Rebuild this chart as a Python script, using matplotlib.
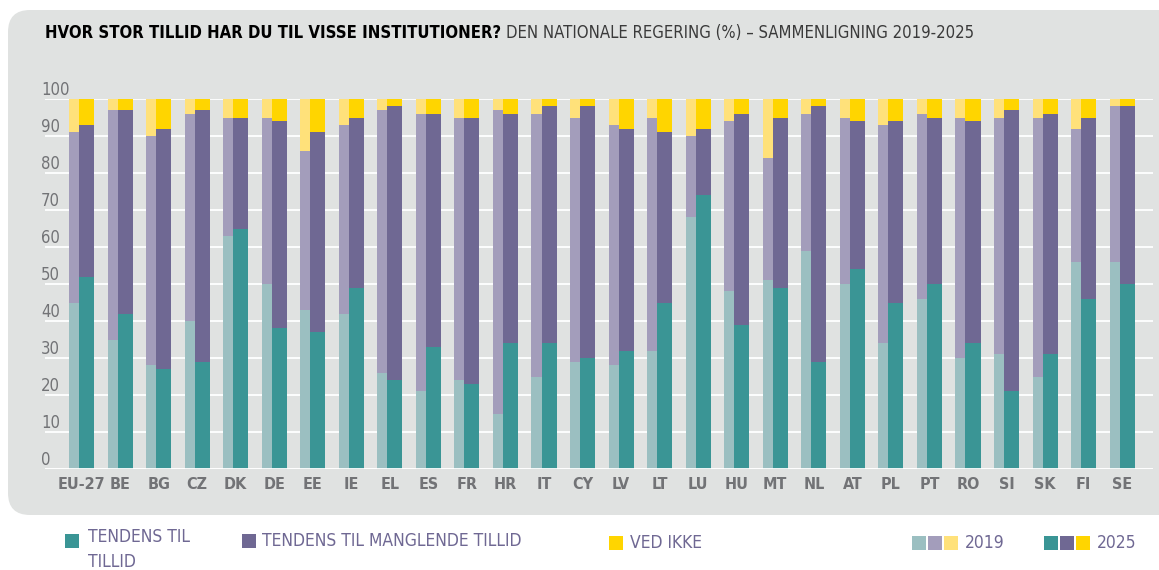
import matplotlib.pyplot as plt
import numpy as np
from matplotlib.patches import FancyBboxPatch, Rectangle
from matplotlib.transforms import IdentityTransform, offset_copy
from matplotlib import font_manager

countries = ["EU-27", "BE", "BG", "CZ", "DK", "DE", "EE", "IE", "EL", "ES",
             "FR", "HR", "IT", "CY", "LV", "LT", "LU", "HU", "MT", "NL",
             "AT", "PL", "PT", "RO", "SI", "SK", "FI", "SE"]

# tendens til tillid
trust_2019 = [45, 35, 28, 40, 63, 50, 43, 42, 26, 21, 24, 15, 25, 29, 28, 32, 68, 48, 51, 59, 50, 34, 46, 30, 31, 25, 56, 56]
trust_2025 = [52, 42, 27, 29, 65, 38, 37, 49, 24, 33, 23, 34, 34, 30, 32, 45, 74, 39, 49, 29, 54, 45, 50, 34, 21, 31, 46, 50]
# tendens til manglende tillid
distrust_2019 = [46, 62, 62, 56, 32, 45, 43, 51, 71, 75, 71, 82, 71, 66, 65, 63, 22, 46, 33, 37, 45, 59, 50, 65, 64, 70, 36, 42]
distrust_2025 = [41, 55, 65, 68, 30, 56, 54, 46, 74, 63, 72, 62, 64, 68, 60, 46, 18, 57, 46, 69, 40, 49, 45, 60, 76, 65, 49, 48]
# ved ikke
dk_2019 = [9, 3, 10, 4, 5, 5, 14, 7, 3, 4, 5, 3, 4, 5, 7, 5, 10, 6, 16, 4, 5, 7, 4, 5, 5, 5, 8, 2]
dk_2025 = [7, 3, 8, 3, 5, 6, 9, 5, 2, 4, 5, 4, 2, 2, 8, 9, 8, 4, 5, 2, 6, 6, 5, 6, 3, 4, 5, 2]
yticks = list(range(0, 101, 10))

c19 = ["#9bbfc1", "#a39dbb", "#ffe17a"]
c25 = ["#3a9595", "#6f6893", "#ffd500"]
bg = "#e0e2e1"
tick_col = "#727376"
leg_col = "#6f6893"

# look for a condensed face, fall back to DejaVu Sans
names = {f.name for f in font_manager.fontManager.ttflist}
narrow = [n for n in ["Liberation Sans Narrow", "DejaVu Sans Condensed"] if n in names] + ["DejaVu Sans"]
stretch = "condensed"

W, H = 1159, 570
fig = plt.figure(figsize=(W / 100, H / 100), dpi=100)
fig.patch.set_facecolor("white")

panel = FancyBboxPatch((8, H - 515), 1200, 505, boxstyle="round,pad=0,rounding_size=22",
                       transform=IdentityTransform(), facecolor=bg, edgecolor="none", zorder=-5)
fig.patches.append(panel)

ax_left, ax_right = 45, 1153
ax = fig.add_axes([ax_left / W, (H - 469) / H, (ax_right - ax_left) / W, 370 / H], zorder=2)
ax.patch.set_visible(False)

x = np.arange(len(countries))
t19, t25 = np.array(trust_2019), np.array(trust_2025)
d19, d25 = np.array(distrust_2019), np.array(distrust_2025)
k19, k25 = np.array(dk_2019), np.array(dk_2025)

w = 0.39
off = 0.13
ax.bar(x - off, t19, w, color=c19[0], zorder=2)
ax.bar(x - off, d19, w, bottom=t19, color=c19[1], zorder=2)
ax.bar(x - off, k19, w, bottom=t19 + d19, color=c19[2], zorder=2)
ax.bar(x + off, t25, w, color=c25[0], zorder=3)
ax.bar(x + off, d25, w, bottom=t25, color=c25[1], zorder=3)
ax.bar(x + off, k25, w, bottom=t25 + d25, color=c25[2], zorder=3)

ax.set_ylim(0, 100)
ax.set_xlim(-0.947, 27.8)
ax.set_yticks(yticks)
ax.set_yticklabels([])
ax.yaxis.grid(True, color="white", linewidth=1.3, zorder=1)
ax.axhline(0, color="white", linewidth=2, zorder=4)
ax.set_axisbelow(True)
for s in ax.spines.values():
    s.set_visible(False)
ax.set_xticks(x)
ax.set_xticklabels(countries)
ax.tick_params(length=0, colors=tick_col, labelsize=11.5, pad=6)
for lab in ax.get_xticklabels():
    lab.set_family(narrow)
    lab.set_stretch(stretch)
    lab.set_fontweight("bold")

# y labels sit left-aligned just above their gridline
ytr = offset_copy(ax.get_yaxis_transform(), fig=fig, x=-4, y=4, units="dots")
for v in yticks:
    ax.text(0, v, str(v), transform=ytr, ha="left", va="baseline", fontsize=12,
            color=tick_col, family=narrow, stretch=stretch, zorder=5)

# title
t1 = fig.text(45 / W, 1 - 33 / H, "HVOR STOR TILLID HAR DU TIL VISSE INSTITUTIONER?",
              fontsize=12, fontweight="bold", color="black", family=narrow, stretch=stretch, va="center")
fig.canvas.draw()
bb = t1.get_window_extent()
fig.text((bb.x1 + 5) / W, 1 - 33 / H, "DEN NATIONALE REGERING (%) – SAMMENLIGNING 2019-2025",
         fontsize=12, color="#3a3a3a", family=narrow, stretch=stretch, va="center")

# legend
def square(px, py, color):
    fig.patches.append(Rectangle((px / W, 1 - (py + 14) / H), 14 / W, 14 / H,
                                 transform=fig.transFigure, facecolor=color, edgecolor="none"))

lkw = dict(fontsize=12.5, color=leg_col, family=narrow, stretch=stretch)
square(65, 534, c25[0])
fig.text(88 / W, 1 - 528 / H, "TENDENS TIL\nTILLID", va="top", linespacing=1.5, **lkw)
square(242, 534, c25[1])
fig.text(262 / W, 1 - 541 / H, "TENDENS TIL MANGLENDE TILLID", va="center", **lkw)
square(609, 536, c25[2])
fig.text(630 / W, 1 - 543 / H, "VED IKKE", va="center", **lkw)
for i in range(3):
    square(912 + 16 * i, 536, c19[i])
    square(1044 + 16 * i, 536, c25[i])
fig.text(965 / W, 1 - 543 / H, "2019", va="center", **lkw)
fig.text(1097 / W, 1 - 543 / H, "2025", va="center", **lkw)

fig.savefig("out.png", dpi=100)
